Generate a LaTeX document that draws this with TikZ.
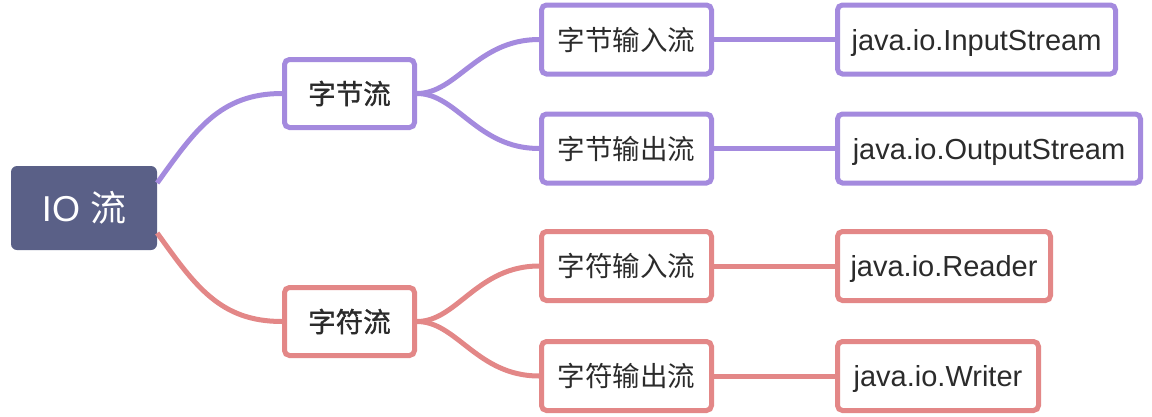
\documentclass[tikz,border=0pt]{standalone}
\usepackage{fontspec}
\setmainfont{Liberation Sans}
\newfontfamily\cjk{Noto Sans CJK SC}
\newfontfamily\cjkm[FakeBold=1.2]{Noto Sans CJK SC}
\definecolor{rootc}{HTML}{5A6087}
\definecolor{purp}{HTML}{A48ADE}
\definecolor{pinkc}{HTML}{E38787}
\definecolor{txt}{HTML}{2B2B2B}
\tikzset{
  rootbox/.style={fill=rootc, rounded corners=6pt, text=white, minimum width=146pt, minimum height=84pt, inner sep=0pt, font=\fontsize{36}{36}\selectfont},
  pbox/.style={draw=purp, line width=5pt, rounded corners=5pt, fill=white, inner sep=0pt, text=txt},
  rbox/.style={draw=pinkc, line width=5pt, rounded corners=5pt, fill=white, inner sep=0pt, text=txt},
  lone/.style={minimum width=130pt, minimum height=68pt, font=\cjkm\fontsize{27.5}{27.5}\selectfont},
  ltwo/.style={minimum width=170pt, minimum height=69pt, font=\cjk\fontsize{27.5}{27.5}\selectfont},
  lthree/.style={minimum height=69pt, text height=24pt, text depth=3pt, font=\fontsize{29}{29}\selectfont},
  pline/.style={draw=purp, line width=5pt},
  rline/.style={draw=pinkc, line width=5pt},
}
\begin{document}
\begin{tikzpicture}[x=1pt, y=-1pt]
\useasboundingbox (0,0) rectangle (1152,416);
% nodes
\node[rootbox] (root) at (84,208) {IO {\cjk 流}};
\node[pbox, lone] (b1) at (349.5,93.5) {字节流};
\node[rbox, lone] (b2) at (349.5,321.5) {字符流};
\node[pbox, ltwo] (b1a) at (626.5,39.5) {字节输入流};
\node[pbox, ltwo] (b1b) at (626.5,148.5) {字节输出流};
\node[rbox, ltwo] (b2a) at (626.5,266) {字符输入流};
\node[rbox, ltwo] (b2b) at (626.5,376) {字符输出流};
\node[pbox, lthree, minimum width=278pt] (j1) at (976.5,39.5) {java.io.InputStream};
\node[pbox, lthree, minimum width=303pt] (j2) at (989,148.5) {java.io.OutputStream};
\node[rbox, lthree, minimum width=213pt] (j3) at (944,266) {java.io.Reader};
\node[rbox, lthree, minimum width=201pt] (j4) at (938,376) {java.io.Writer};
% connectors
\draw[pline] ([yshift=25pt]root.east) .. controls +(38,-53) and +(-62,0) .. (b1.west);
\draw[rline] ([yshift=-25pt]root.east) .. controls +(38,53) and +(-62,0) .. (b2.west);
\draw[pline] (b1.east) .. controls +(40,0) and +(-62,0) .. (b1a.west);
\draw[pline] (b1.east) .. controls +(40,0) and +(-62,0) .. (b1b.west);
\draw[rline] (b2.east) .. controls +(40,0) and +(-62,0) .. (b2a.west);
\draw[rline] (b2.east) .. controls +(40,0) and +(-62,0) .. (b2b.west);
\draw[pline] (b1a.east) -- (j1.west);
\draw[pline] (b1b.east) -- (j2.west);
\draw[rline] (b2a.east) -- (j3.west);
\draw[rline] (b2b.east) -- (j4.west);
\end{tikzpicture}
\end{document}
